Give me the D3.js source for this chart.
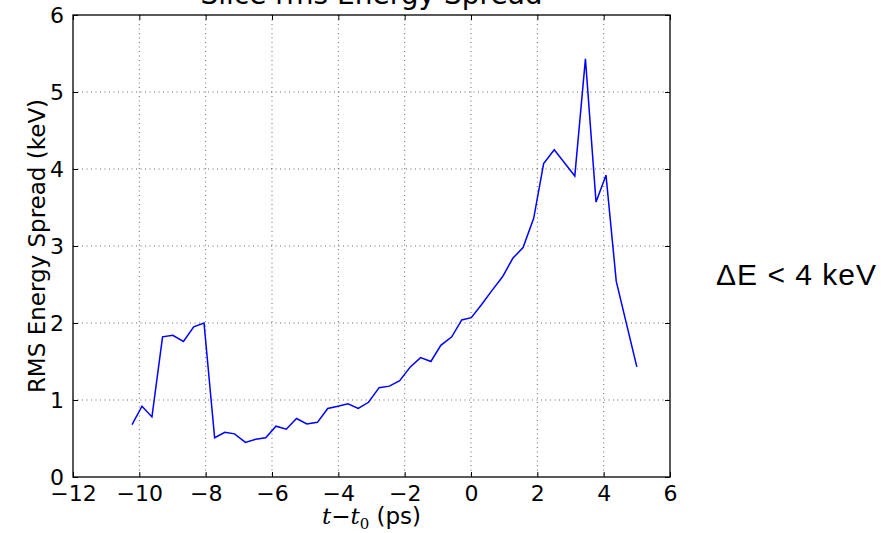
<!DOCTYPE html>
<html>
<head>
<meta charset="utf-8">
<script src="https://cdn.jsdelivr.net/npm/d3@7"></script>
<style>
  body { margin: 0; background: #fff; }
  svg { display: block; }
</style>
</head>
<body>
<svg id="chart" width="883" height="533"></svg>
<script>
// time offsets (ps)
var tValues = [
  -10.22, -9.92, -9.62, -9.30, -8.99, -8.67, -8.36, -8.05,
  -7.73, -7.42, -7.13, -6.80, -6.49, -6.19, -5.88, -5.57,
  -5.26, -4.95, -4.63, -4.32, -4.01, -3.71, -3.40, -3.09,
  -2.77, -2.46, -2.15, -1.83, -1.52, -1.21, -0.91, -0.58,
  -0.28, 0.01, 0.32, 0.63, 0.95, 1.26, 1.57, 1.89,
  2.19, 2.51, 3.13, 3.45, 3.77, 4.07, 4.38, 5.00
];
// rms energy spread (keV)
var spread = [
  0.68, 0.92, 0.78, 1.82, 1.84, 1.76, 1.95, 2.00,
  0.51, 0.58, 0.56, 0.45, 0.49, 0.51, 0.66, 0.62,
  0.76, 0.69, 0.71, 0.89, 0.92, 0.95, 0.89, 0.97,
  1.16, 1.18, 1.25, 1.43, 1.55, 1.50, 1.71, 1.82,
  2.04, 2.07, 2.24, 2.42, 2.60, 2.84, 2.98, 3.36,
  4.07, 4.25, 3.91, 5.43, 3.57, 3.92, 2.54, 1.43
];
var xTicks = [-12, -10, -8, -6, -4, -2, 0, 2, 4, 6];
var yTicks = [0, 1, 2, 3, 4, 5, 6];
var titleText = "Slice rms Energy Spread";
var yLabel = "RMS Energy Spread (keV)";
var noteText = "\u0394E < 4 keV";

var plotL = 73, plotR = 670, plotT = 15, plotB = 477;
var svg = d3.select("#chart");
var font = "'DejaVu Sans', sans-serif";

var x = d3.scaleLinear().domain([-12, 6]).range([plotL, plotR]);
var y = d3.scaleLinear().domain([0, 6]).range([plotB, plotT]);

// grid (dotted)
svg.append("g").selectAll("line").data(xTicks.slice(1, -1)).enter()
  .append("line")
  .attr("x1", function(d) { return x(d); }).attr("x2", function(d) { return x(d); })
  .attr("y1", plotT).attr("y2", plotB)
  .attr("stroke", "#000").attr("stroke-width", 0.6).attr("stroke-dasharray", "1,3.5");
svg.append("g").selectAll("line").data(yTicks.slice(1, -1)).enter()
  .append("line")
  .attr("y1", function(d) { return y(d); }).attr("y2", function(d) { return y(d); })
  .attr("x1", plotL).attr("x2", plotR)
  .attr("stroke", "#000").attr("stroke-width", 0.6).attr("stroke-dasharray", "1,3.5");

// axes: bottom / left with labels, top / right ticks only (all inward)
var xAxis = d3.axisBottom(x).tickValues(xTicks).tickSizeInner(-5).tickSizeOuter(0)
  .tickPadding(8).tickFormat(function(d) { return d < 0 ? "\u2212" + (-d) : d; });
var yAxis = d3.axisLeft(y).tickValues(yTicks).tickSizeInner(-5).tickSizeOuter(0)
  .tickPadding(9).tickFormat(d3.format("d"));

svg.append("g").attr("transform", "translate(0," + plotB + ")").call(xAxis)
  .call(function(g) {
    g.select(".domain").remove();
    g.selectAll("text").style("font-family", font).style("font-size", "22px").attr("fill", "#000");
  });
svg.append("g").attr("transform", "translate(" + plotL + ",0)").call(yAxis)
  .call(function(g) {
    g.select(".domain").remove();
    g.selectAll("text").style("font-family", font).style("font-size", "22px").attr("fill", "#000");
  });
svg.append("g").attr("transform", "translate(0," + plotT + ")")
  .call(d3.axisTop(x).tickValues(xTicks).tickSizeInner(-5).tickSizeOuter(0).tickFormat(""))
  .call(function(g) { g.select(".domain").remove(); });
svg.append("g").attr("transform", "translate(" + plotR + ",0)")
  .call(d3.axisRight(y).tickValues(yTicks).tickSizeInner(-5).tickSizeOuter(0).tickFormat(""))
  .call(function(g) { g.select(".domain").remove(); });

// frame
svg.append("rect")
  .attr("x", plotL).attr("y", plotT).attr("width", plotR - plotL).attr("height", plotB - plotT)
  .attr("fill", "none").attr("stroke", "#000").attr("stroke-width", 1.3);

// the data line
var line = d3.line()
  .x(function(d, i) { return x(tValues[i]); })
  .y(function(d) { return y(d); });
svg.append("path")
  .datum(spread)
  .attr("d", line)
  .attr("fill", "none")
  .attr("stroke", "#0000ff")
  .attr("stroke-width", 1.5);

// title (cut off at top like the original)
svg.append("text")
  .attr("x", (plotL + plotR) / 2).attr("y", 4)
  .attr("text-anchor", "middle")
  .style("font-family", font).style("font-size", "28px")
  .text(titleText);

// y label
svg.append("text")
  .attr("transform", "translate(45," + ((plotT + plotB) / 2) + ") rotate(-90)")
  .attr("text-anchor", "middle")
  .style("font-family", font).style("font-size", "23px")
  .text(yLabel);

// x label: t - t0 (ps)
var xl = svg.append("text")
  .attr("x", (plotL + plotR) / 2).attr("y", 524)
  .attr("text-anchor", "middle")
  .style("font-family", font).style("font-size", "23px");
xl.append("tspan").style("font-family", "'DejaVu Serif', serif").style("font-style", "italic").text("t");
xl.append("tspan").text("\u2212");
xl.append("tspan").style("font-family", "'DejaVu Serif', serif").style("font-style", "italic").text("t");
xl.append("tspan").attr("dy", 5).style("font-family", "'DejaVu Serif', serif").style("font-size", "15px").text("0");
xl.append("tspan").attr("dy", -5).text(" (ps)");

// side note
svg.append("text")
  .attr("x", 716).attr("y", 285)
  .style("font-family", "'Liberation Sans', Arial, sans-serif").style("font-size", "30px")
  .style("letter-spacing", "1px")
  .text(noteText);
</script>
</body>
</html>
